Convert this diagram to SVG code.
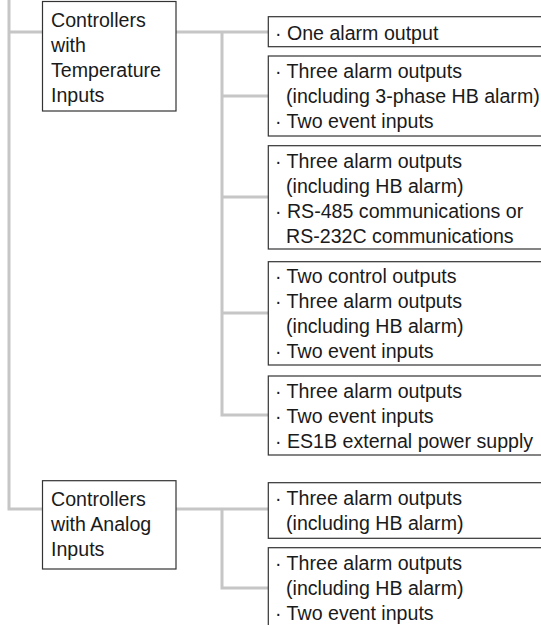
<svg xmlns="http://www.w3.org/2000/svg" width="541" height="625" viewBox="0 0 541 625">
<style>
.bg{fill:#fff}
.conn{stroke:#c6c6c6;stroke-width:3;fill:none}
.box{fill:#fff;stroke:#333;stroke-width:1.2}
text{font-family:"Liberation Sans",Arial,sans-serif;font-size:19.6px;fill:#1a1a1a}
</style>
<rect class="bg" x="0" y="0" width="541" height="625"/>
<g id="connectors">
<path class="conn" d="M9,0 V509 H268"/>
<path class="conn" d="M9,32 H268"/>
<path class="conn" d="M222,32 V415 H268"/>
<path class="conn" d="M222,96 H268 M222,197 H268 M222,313 H268"/>
<path class="conn" d="M222,509 V588 H268"/>
</g>
<g id="temp">
<rect class="box" x="42.5" y="1.5" width="133.5" height="109.5"/>
<text x="51" y="26.7">Controllers</text>
<text x="51" y="51.7">with</text>
<text x="51" y="76.7">Temperature</text>
<text x="51" y="101.7">Inputs</text>
</g>
<g id="analog">
<rect class="box" x="42.5" y="480.7" width="133.5" height="88.3"/>
<text x="51" y="506">Controllers</text>
<text x="51" y="531">with Analog</text>
<text x="51" y="556">Inputs</text>
</g>
<g id="t1">
<rect class="box" x="268.3" y="16.7" width="290" height="30"/>
<text x="275" y="40">· One alarm output</text>
</g>
<g id="t2">
<rect class="box" x="268.3" y="56" width="290" height="80"/>
<text x="275" y="78.3">· Three alarm outputs</text>
<text x="286" y="103.3">(including 3-phase HB alarm)</text>
<text x="275" y="128.3">· Two event inputs</text>
</g>
<g id="t3">
<rect class="box" x="268.3" y="145.7" width="290" height="103.3"/>
<text x="275" y="168.3">· Three alarm outputs</text>
<text x="286" y="193.3">(including HB alarm)</text>
<text x="275" y="218.3">· RS-485 communications or</text>
<text x="286" y="243.3">RS-232C communications</text>
</g>
<g id="t4">
<rect class="box" x="268.3" y="261.7" width="290" height="103.3"/>
<text x="275" y="283.3">· Two control outputs</text>
<text x="275" y="308.3">· Three alarm outputs</text>
<text x="286" y="333.3">(including HB alarm)</text>
<text x="275" y="358.3">· Two event inputs</text>
</g>
<g id="t5">
<rect class="box" x="268.3" y="376" width="290" height="79"/>
<text x="275" y="398.3">· Three alarm outputs</text>
<text x="275" y="423.3">· Two event inputs</text>
<text x="275" y="448.3">· ES1B external power supply</text>
</g>
<g id="a1">
<rect class="box" x="268.3" y="482.7" width="290" height="55.6"/>
<text x="275" y="505">· Three alarm outputs</text>
<text x="286" y="530">(including HB alarm)</text>
</g>
<g id="a2">
<rect class="box" x="268.3" y="547.7" width="290" height="90"/>
<text x="275" y="570">· Three alarm outputs</text>
<text x="286" y="595">(including HB alarm)</text>
<text x="275" y="620">· Two event inputs</text>
</g>
</svg>
